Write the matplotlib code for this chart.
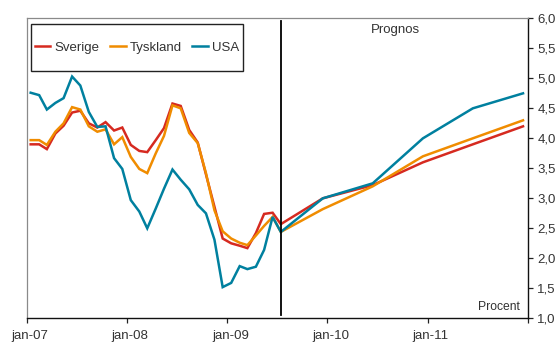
import numpy as np
import pandas as pd
import matplotlib
matplotlib.use("Agg")
import matplotlib.pyplot as plt
import matplotlib.transforms as mtransforms
from matplotlib.patches import Rectangle

plt.rcParams['font.family'] = ['Liberation Sans', 'DejaVu Sans']

# Monthly long rates jan-07 .. jul-09 (plotted mid-month)
hist_start = '2007-01-01'
n_hist = 31
sverige_hist = [3.90, 3.90, 3.82, 4.08, 4.21, 4.43, 4.46, 4.25, 4.18, 4.27,
                4.13, 4.18, 3.89, 3.79, 3.77, 3.97, 4.17, 4.58, 4.54, 4.14,
                3.93, 3.40, 2.86, 2.33, 2.25, 2.21, 2.17, 2.42, 2.74, 2.76,
                2.57]
tyskland_hist = [3.97, 3.97, 3.89, 4.11, 4.25, 4.52, 4.48, 4.20, 4.11, 4.15,
                 3.90, 4.02, 3.69, 3.49, 3.42, 3.75, 4.04, 4.55, 4.50, 4.09,
                 3.92, 3.42, 2.80, 2.45, 2.33, 2.26, 2.22, 2.38, 2.54, 2.69,
                 2.44]
usa_hist = [4.76, 4.72, 4.48, 4.59, 4.67, 5.03, 4.88, 4.44, 4.19, 4.20,
            3.67, 3.49, 2.97, 2.78, 2.50, 2.83, 3.16, 3.48, 3.31, 3.15,
            2.89, 2.75, 2.31, 1.52, 1.59, 1.87, 1.82, 1.86, 2.14, 2.69,
            2.44]

# Half-yearly forecast
prog_dates = ['2009-12-15', '2010-06-15', '2010-12-15', '2011-06-15', '2011-12-15']
sverige_prog = [3.00, 3.22, 3.60, 3.90, 4.20]
tyskland_prog = [2.82, 3.20, 3.70, 4.00, 4.30]
usa_prog = [3.00, 3.25, 4.00, 4.50, 4.75]

year_ticks = ['2007-01-01', '2008-01-01', '2009-01-01', '2010-01-01', '2011-01-01', '2012-01-01']
year_labels = ['jan-07', 'jan-08', 'jan-09', 'jan-10', 'jan-11', '']
y_ticks = [1.0, 1.5, 2.0, 2.5, 3.0, 3.5, 4.0, 4.5, 5.0, 5.5, 6.0]

series = [('Sverige', sverige_hist, sverige_prog, '#d62a20'),
          ('Tyskland', tyskland_hist, tyskland_prog, '#f08c00'),
          ('USA', usa_hist, usa_prog, '#00809f')]

hist_dates = pd.date_range(hist_start, periods=n_hist, freq='MS') + pd.Timedelta(days=14)
all_dates = list(hist_dates) + list(pd.to_datetime(prog_dates))

fig = plt.figure(figsize=(5.59, 3.46), dpi=100)
ax = fig.add_axes([0.048, 0.080, 0.896, 0.867])

for name, h, p, col in series:
    ax.plot(all_dates, list(h) + list(p), color=col, lw=1.8, label=name,
            solid_joinstyle='miter')

ax.axvline(hist_dates[-1], ymin=0.01, ymax=0.99, color='black', lw=1.3)

ax.set_xlim(pd.Timestamp('2007-01-01'), pd.Timestamp('2012-01-01'))
ax.set_ylim(1.0, 6.0)

ax.set_xticks(pd.to_datetime(year_ticks))
ax.set_xticklabels(year_labels)
ax.set_yticks(y_ticks)
ax.set_yticklabels([f'{v:.1f}'.replace('.', ',') for v in y_ticks])

ax.yaxis.tick_right()
ax.tick_params(axis='both', direction='out', length=3.5, width=0.9,
               labelsize=9.5, labelcolor='#333333', colors='#222222')
ax.tick_params(axis='x', pad=5)
ax.tick_params(axis='y', pad=3.5)

# nudge the month labels a little to the right
shift = mtransforms.ScaledTranslation(0.03, 0, fig.dpi_scale_trans)
for lbl in ax.get_xticklabels():
    lbl.set_transform(lbl.get_transform() + shift)

for side in ['left', 'top']:
    ax.spines[side].set_color('#8a8a8a')
    ax.spines[side].set_linewidth(0.9)
for side in ['right', 'bottom']:
    ax.spines[side].set_color('#111111')
    ax.spines[side].set_linewidth(1.0)

# legend box
ax.add_patch(Rectangle((0.0084, 0.824), 0.423, 0.157, transform=ax.transAxes,
                       fill=False, edgecolor='#222222', lw=1.0, zorder=5))
ax.legend(loc='center', bbox_to_anchor=(0.22, 0.902), ncol=3, frameon=False,
          fontsize=9.5, handlelength=1.2, handletextpad=0.3, columnspacing=0.8,
          borderaxespad=0, labelcolor='#333333')

ax.text(0.735, 0.961, 'Prognos', transform=ax.transAxes, ha='center',
        va='center', fontsize=9.5, color='#333333')
ax.text(0.984, 0.038, 'Procent', transform=ax.transAxes, ha='right',
        va='center', fontsize=8.7, color='#333333')

fig.savefig('out.png', dpi=100)
